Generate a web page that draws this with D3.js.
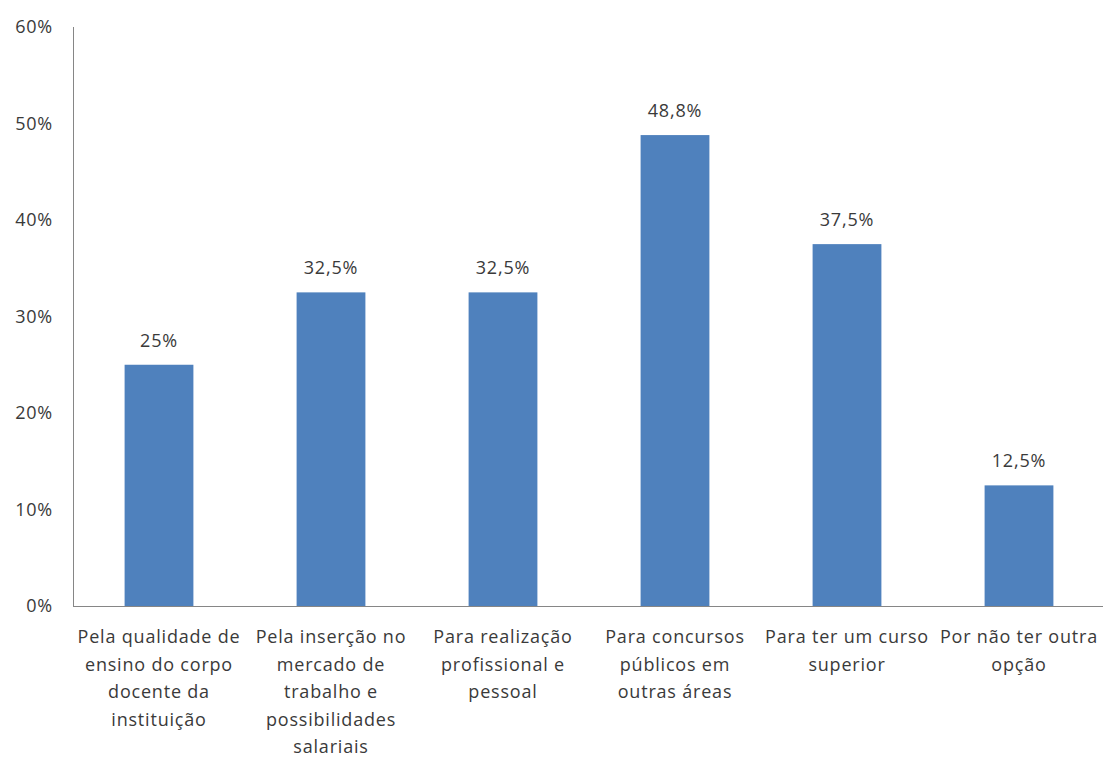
<!DOCTYPE html>
<html>
<head>
<meta charset="utf-8">
<script src="https://cdn.jsdelivr.net/npm/d3@7"></script>
<style>
  body { margin: 0; background: #fff; }
  text { font-family: "Open Sans", "Liberation Sans", sans-serif; fill: #3a3a3a; letter-spacing: 0.8px; }
</style>
</head>
<body>
<div id="chart"></div>
<script>
// category labels, already wrapped as in the original
const categoryLines = [
  ["Pela qualidade de", "ensino do corpo", "docente da", "instituição"],
  ["Pela inserção no", "mercado de", "trabalho e", "possibilidades", "salariais"],
  ["Para realização", "profissional e", "pessoal"],
  ["Para concursos", "públicos em", "outras áreas"],
  ["Para ter um curso", "superior"],
  ["Por não ter outra", "opção"]
];
const values = [25, 32.5, 32.5, 48.8, 37.5, 12.5];
const valueLabels = ["25%", "32,5%", "32,5%", "48,8%", "37,5%", "12,5%"];
const yTicks = [0, 10, 20, 30, 40, 50, 60];

const WIDTH = 1103, HEIGHT = 760;
const plotLeft = 73, plotRight = 1105, plotTop = 27, plotBottom = 606;

const svg = d3.select("#chart").append("svg")
  .attr("width", WIDTH)
  .attr("height", HEIGHT);

const x = d3.scaleBand()
  .domain(d3.range(values.length))
  .range([plotLeft, plotRight])
  .paddingInner(0.6)
  .paddingOuter(0.3);

const y = d3.scaleLinear()
  .domain([0, 60])
  .range([plotBottom, plotTop]);

// y tick labels
svg.append("g")
  .selectAll("text")
  .data(yTicks)
  .enter()
  .append("text")
  .attr("x", 53)
  .attr("y", d => y(d))
  .attr("dy", "0.35em")
  .attr("text-anchor", "end")
  .style("font-size", "18px")
  .text(d => d + "%");

// bars
svg.append("g")
  .selectAll("rect")
  .data(values)
  .enter()
  .append("rect")
  .attr("x", (d, i) => x(i))
  .attr("y", d => y(d))
  .attr("width", x.bandwidth())
  .attr("height", d => plotBottom - y(d))
  .attr("fill", "#4f81bd");

// value labels
svg.append("g")
  .selectAll("text")
  .data(values)
  .enter()
  .append("text")
  .attr("x", (d, i) => x(i) + x.bandwidth() / 2)
  .attr("y", d => y(d) - 18)
  .attr("text-anchor", "middle")
  .style("font-size", "18px")
  .text((d, i) => valueLabels[i]);

// axes lines
svg.append("line")
  .attr("x1", plotLeft + 0.5).attr("x2", plotLeft + 0.5)
  .attr("y1", plotTop).attr("y2", plotBottom)
  .attr("stroke", "#868686").attr("stroke-width", 1);

svg.append("line")
  .attr("x1", plotLeft).attr("x2", WIDTH)
  .attr("y1", plotBottom + 0.5).attr("y2", plotBottom + 0.5)
  .attr("stroke", "#868686").attr("stroke-width", 1);

// category labels
const cats = svg.append("g")
  .selectAll("text")
  .data(categoryLines)
  .enter()
  .append("text")
  .attr("text-anchor", "middle")
  .style("font-size", "18px");

cats.selectAll("tspan")
  .data((d, i) => d.map(line => ({ line, i })))
  .enter()
  .append("tspan")
  .attr("x", d => x(d.i) + x.bandwidth() / 2)
  .attr("y", (d, j) => 643 + j * 27.5)
  .text(d => d.line);
</script>
</body>
</html>
